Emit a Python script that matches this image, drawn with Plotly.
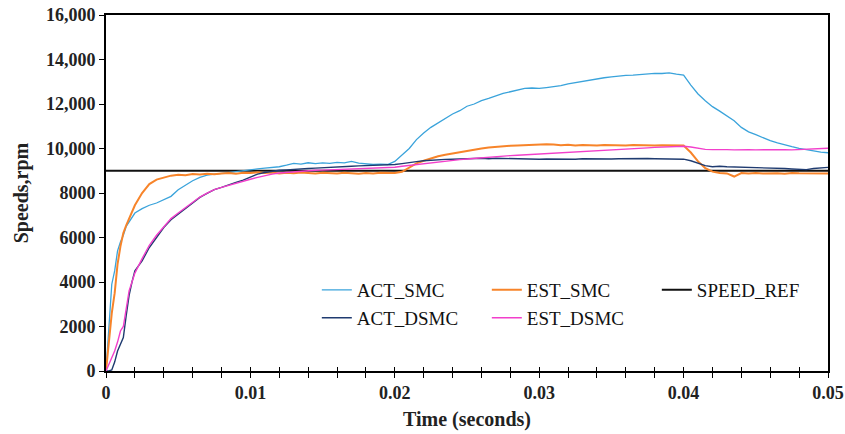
import plotly.graph_objects as go

# ---- data ----
time_s = [0, 0.0002, 0.0004, 0.0006, 0.0008, 0.001, 0.0012, 0.0014, 0.0016, 0.0018, 0.002,
          0.0025, 0.003, 0.0035, 0.004, 0.0045, 0.005, 0.0055, 0.006, 0.0065, 0.007, 0.0075, 0.008, 0.0085, 0.009, 0.0095, 0.01,
          0.0105, 0.011, 0.0115, 0.012, 0.0125, 0.013, 0.0135, 0.014, 0.0145, 0.015,
          0.0155, 0.016, 0.0165, 0.017, 0.0175, 0.018, 0.0185, 0.019, 0.0195, 0.02,
          0.0205, 0.021, 0.0215, 0.022, 0.0225, 0.023, 0.0235, 0.024, 0.0245, 0.025,
          0.0255, 0.026, 0.0265, 0.027, 0.0275, 0.028, 0.0285, 0.029, 0.0295, 0.03,
          0.0305, 0.031, 0.0315, 0.032, 0.0325, 0.033, 0.0335, 0.034, 0.0345, 0.035,
          0.0355, 0.036, 0.0365, 0.037, 0.0375, 0.038, 0.0385, 0.039, 0.0395, 0.04,
          0.0405, 0.041, 0.0415, 0.042, 0.0425, 0.043, 0.0435, 0.044, 0.0445, 0.045,
          0.0455, 0.046, 0.0465, 0.047, 0.0475, 0.048, 0.0485, 0.049, 0.0495, 0.05]

act_smc = [0, 2100, 3900, 4500, 5400, 5800, 6100, 6500, 6700, 6900, 7100,
           7300, 7450, 7550, 7700, 7850, 8150, 8350, 8550, 8700, 8800, 8850, 8900, 8920, 8960, 8990, 9030,
           9080, 9120, 9150, 9180, 9250, 9330, 9300, 9360, 9320, 9350,
           9330, 9380, 9350, 9420, 9340, 9300, 9280, 9300, 9280, 9420,
           9700, 10000, 10400, 10700, 10950, 11150, 11350, 11550, 11700, 11900,
           12000, 12150, 12250, 12380, 12480, 12550, 12640, 12700, 12720, 12700,
           12740, 12780, 12830, 12900, 12960, 13020, 13080, 13150, 13180, 13220,
           13260, 13290, 13300, 13330, 13360, 13380, 13370, 13400, 13340, 13300,
           12850, 12450, 12150, 11880, 11680, 11450, 11250, 10950, 10750, 10620,
           10480, 10350, 10250, 10150, 10080, 10010, 9950, 9880, 9840, 9810]

est_smc = [0, 1300, 2600, 3500, 4800, 5600, 6200, 6550, 6850, 7150, 7450,
           8000, 8400, 8600, 8700, 8780, 8820, 8800, 8850, 8830, 8870, 8840, 8880, 8900, 8870, 8910, 8900,
           8930, 8900, 8920, 8880, 8910, 8890, 8920, 8900, 8880, 8910,
           8900, 8880, 8910, 8890, 8870, 8900, 8880, 8910, 8890, 8900,
           8950, 9150, 9330, 9450, 9560, 9650, 9720, 9780, 9850, 9900,
           9960, 10000, 10050, 10080, 10100, 10120, 10130, 10150, 10170, 10160,
           10190, 10180, 10150, 10170, 10140, 10160, 10150, 10130, 10160, 10140,
           10150, 10130, 10160, 10140, 10150, 10130, 10150, 10140, 10150, 10130,
           9820, 9420, 9120, 8960, 8900, 8880, 8740, 8900, 8880, 8900,
           8880, 8900, 8890, 8870, 8900, 8890, 8880, 8900, 8890, 8880]

act_dsmc = [0, 0, 50, 400, 900, 1200, 1500, 2500, 3400, 4000, 4500,
            4950, 5550, 6000, 6450, 6800, 7050, 7300, 7550, 7800, 7980, 8150, 8250, 8380, 8480, 8580, 8700,
            8850, 8920, 8980, 9020, 9040, 9070, 9080, 9100, 9120, 9130,
            9150, 9170, 9180, 9200, 9220, 9230, 9240, 9250, 9270, 9280,
            9320, 9380, 9410, 9450, 9480, 9500, 9510, 9520, 9540, 9530,
            9550, 9560, 9540, 9560, 9550, 9570, 9540, 9550, 9530, 9520,
            9530, 9520, 9540, 9530, 9520, 9540, 9530, 9550, 9540, 9530,
            9540, 9550, 9530, 9540, 9550, 9540, 9530, 9550, 9540, 9520,
            9450, 9350, 9230, 9180, 9200, 9180, 9170, 9180, 9150, 9140,
            9130, 9150, 9120, 9100, 9080, 9060, 9050, 9100, 9130, 9150]

est_dsmc = [0, 300, 600, 900, 1300, 1800, 2000, 2900, 3600, 4000, 4400,
            5050, 5650, 6100, 6500, 6850, 7100, 7330, 7580, 7820, 7990, 8150, 8250, 8350, 8450, 8550, 8620,
            8700, 8780, 8850, 8900, 8930, 8960, 8980, 9000, 9020, 9030,
            9040, 9050, 9060, 9070, 9080, 9090, 9100, 9120, 9140, 9160,
            9200, 9240, 9290, 9330, 9370, 9400, 9440, 9470, 9500, 9530,
            9560, 9590, 9620, 9640, 9660, 9680, 9700, 9720, 9740, 9750,
            9770, 9780, 9800, 9820, 9830, 9850, 9870, 9890, 9910, 9930,
            9950, 9970, 9990, 10010, 10030, 10050, 10060, 10080, 10090, 10100,
            10070, 10000, 9960, 9950, 9960, 9950, 9940, 9960, 9950, 9940,
            9950, 9940, 9960, 9950, 9940, 9950, 9960, 9980, 10000, 10010]

speed_ref_time = [0, 0.05]
speed_ref = [9000, 9000]

y_tick_vals = [0, 2000, 4000, 6000, 8000, 10000, 12000, 14000, 16000]
y_tick_text = ["0", "2000", "4000", "6000", "8000", "10,000", "12,000", "14,000", "16,000"]
x_tick_vals = [0, 0.01, 0.02, 0.03, 0.04, 0.05]
x_tick_text = ["0", "0.01", "0.02", "0.03", "0.04", "0.05"]

SERIF = "Liberation Serif"

fig = go.Figure()
fig.add_trace(go.Scatter(x=speed_ref_time, y=speed_ref, name="SPEED_REF", mode="lines",
                         line=dict(color="#111111", width=2), legend="legend", legendrank=3))
fig.add_trace(go.Scatter(x=time_s, y=act_smc, name="ACT_SMC", mode="lines",
                         line=dict(color="#3AA3DB", width=1.3), legend="legend", legendrank=1))
fig.add_trace(go.Scatter(x=time_s, y=est_smc, name="EST_SMC", mode="lines",
                         line=dict(color="#F7842A", width=2), legend="legend", legendrank=2))
fig.add_trace(go.Scatter(x=time_s, y=act_dsmc, name="ACT_DSMC", mode="lines",
                         line=dict(color="#1F3B70", width=1.4), legend="legend2", legendrank=4))
fig.add_trace(go.Scatter(x=time_s, y=est_dsmc, name="EST_DSMC", mode="lines",
                         line=dict(color="#F23FCB", width=1.4), legend="legend2", legendrank=5))
# helper axis for the inward half of the crossing x ticks
fig.add_trace(go.Scatter(x=[None], y=[None], xaxis="x2", showlegend=False, hoverinfo="skip"))

tickfont = dict(family=SERIF, size=18, color="#222222", weight="bold")
legfont = dict(family=SERIF, size=19, color="#111111")
titlefont = dict(family=SERIF, size=20, color="#222222", weight="bold")

legend_common = dict(orientation="h", xanchor="left", yanchor="middle",
                     entrywidth=125, entrywidthmode="pixels", font=legfont,
                     bgcolor="rgba(0,0,0,0)", itemwidth=30, traceorder="normal")

fig.update_layout(
    width=845, height=434,
    margin=dict(l=106, r=17, t=15, b=63, autoexpand=False),
    paper_bgcolor="white", plot_bgcolor="white",
    showlegend=True,
    legend=dict(x=0.292, y=0.2275, **legend_common),
    legend2=dict(x=0.292, y=0.149, **legend_common),
    xaxis=dict(range=[0, 0.05], tickvals=x_tick_vals, ticktext=x_tick_text,
               ticks="outside", ticklen=5, tickwidth=1.3, tickcolor="black",
               minor=dict(dtick=0.002, ticks="outside", ticklen=5, tickwidth=1.3, tickcolor="black"),
               showline=True, linecolor="black", linewidth=1.6, mirror=True,
               showgrid=False, zeroline=False, tickfont=tickfont, automargin=False,
               title=dict(text="Time (seconds)", font=titlefont, standoff=10)),
    xaxis2=dict(range=[0, 0.05], overlaying="x", anchor="y", side="bottom",
                tickvals=x_tick_vals, ticks="inside", ticklen=4, tickwidth=1.3, tickcolor="black",
                minor=dict(dtick=0.002, ticks="inside", ticklen=4, tickwidth=1.3, tickcolor="black"),
                showticklabels=False, showline=False, showgrid=False, zeroline=False, automargin=False),
    yaxis=dict(range=[0, 16000], tickvals=y_tick_vals, ticktext=y_tick_text,
               ticks="outside", ticklen=5, tickwidth=1.3, tickcolor="black",
               showline=True, linecolor="black", linewidth=1.6, mirror=True,
               showgrid=False, zeroline=False, tickfont=tickfont, automargin=False,
               title=dict(text="Speeds,rpm", font=titlefont, standoff=12)),
)

# the page's default 8px body margin would shift the figure; remove it
fig.write_html("out.html", config={"displayModeBar": False},
               post_script="document.body.style.margin='0';")
